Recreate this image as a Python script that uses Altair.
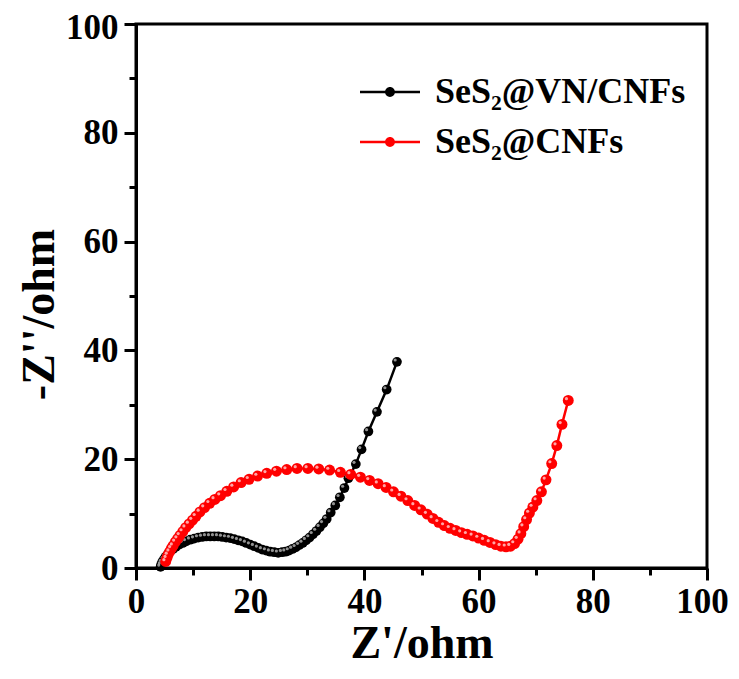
import altair as alt
import pandas as pd

# ---- data ----
series_names = ["SeS\u2082@VN/CNFs", "SeS\u2082@CNFs"]
series_colors = ["#000000", "#ff0000"]
highlight_colors = ["#b8b8b8", "#ffd0d0"]

vn_x = [4.3, 4.4, 4.6, 4.9, 5.2, 5.6, 6.0, 6.5, 7.0, 7.6, 8.2, 8.8, 9.5, 10.2, 10.9, 11.6,
        12.3, 13.0, 13.7, 14.4, 15.1, 15.8, 16.5, 17.2, 17.9, 18.6, 19.3, 20.0, 20.7, 21.4,
        22.1, 22.8, 23.5, 24.2, 24.9, 25.6, 26.2, 26.8, 27.4, 28.0, 28.6, 29.2, 29.8, 30.4,
        31.0, 31.6, 32.2, 32.8, 33.4, 34.1, 34.9, 35.7, 36.5, 37.2, 38.5, 39.5, 40.7, 42.2,
        43.9, 45.7]
vn_y = [0.2, 0.6, 1.1, 1.6, 2.1, 2.6, 3.1, 3.5, 3.9, 4.3, 4.6, 4.9, 5.2, 5.4, 5.6, 5.7,
        5.8, 5.8, 5.8, 5.8, 5.7, 5.6, 5.5, 5.3, 5.1, 4.9, 4.6, 4.3, 4.0, 3.7,
        3.4, 3.2, 3.0, 2.9, 2.8, 2.9, 3.0, 3.2, 3.5, 3.8, 4.2, 4.6, 5.1, 5.6,
        6.2, 6.8, 7.5, 8.2, 9.0, 10.2, 11.5, 13.0, 14.7, 16.5, 19.1, 21.8, 25.1, 28.7,
        32.8, 37.9]

cnf_x = [5.2, 5.4, 5.6, 5.9, 6.2, 6.5, 6.9, 7.3, 7.7, 8.2, 8.7, 9.3, 9.9, 10.5, 11.2, 12.0,
         12.9, 13.8, 14.8, 15.9, 17.1, 18.4, 19.8, 21.3, 22.9, 24.6, 26.4, 28.2, 30.1, 32.0,
         33.9, 35.8, 37.6, 39.3, 40.9, 42.4, 43.8, 45.1, 46.4, 47.6, 48.8, 49.9, 51.0, 52.0,
         53.0, 54.0, 55.0, 56.0, 57.0, 58.0, 59.0, 60.0, 61.0, 62.0, 63.0, 63.9, 64.8, 65.6,
         66.3, 66.9, 67.4, 67.9, 68.4, 68.9, 69.5, 70.2, 71.0, 71.8, 72.8, 73.7, 74.6, 75.7]
cnf_y = [1.2, 1.8, 2.4, 3.0, 3.6, 4.1, 4.8, 5.4, 6.0, 6.7, 7.4, 8.1, 8.8, 9.5, 10.3, 11.1,
         11.9, 12.6, 13.3, 14.1, 14.9, 15.7, 16.3, 16.9, 17.4, 17.8, 18.1, 18.3, 18.3, 18.2,
         18.0, 17.6, 17.2, 16.7, 16.1, 15.5, 14.8, 14.0, 13.2, 12.4, 11.5, 10.7, 9.9, 9.1,
         8.4, 7.8, 7.3, 6.9, 6.5, 6.2, 5.9, 5.5, 5.1, 4.7, 4.3, 4.0, 3.9, 4.0,
         4.5, 5.3, 6.3, 7.6, 8.9, 10.1, 11.2, 12.4, 14.0, 16.2, 19.2, 22.5, 26.4, 30.8]

x_major = [0, 20, 40, 60, 80, 100]
x_minor = [10, 30, 50, 70, 90]
y_major = [0, 20, 40, 60, 80, 100]
y_minor = [10, 30, 50, 70, 90]

rows = []
for i, (a, b) in enumerate(zip(vn_x, vn_y)):
    rows.append({"series": series_names[0], "zr": a, "zi": b, "idx": i})
for i, (a, b) in enumerate(zip(cnf_x, cnf_y)):
    rows.append({"series": series_names[1], "zr": a, "zi": b, "idx": i})
df = pd.DataFrame(rows)

FONT = "Liberation Serif"
xs = alt.Scale(domain=[0, 100], nice=False, zero=False)
ys = alt.Scale(domain=[0, 100], nice=False, zero=False)
cscale = alt.Scale(domain=series_names, range=series_colors)

base = alt.Chart(df)

major_x_axis = alt.Axis(values=x_major, title="Z'/ohm", orient="bottom", tickSize=12,
                        labelPadding=4, titlePadding=2, format="d",
                        labelOffset=alt.condition(alt.datum.value == 100, alt.value(-5), alt.value(0)),
                        labelOverlap=False, labelFlush=False)
major_y_axis = alt.Axis(values=y_major, title="-Z''/ohm", orient="left", tickSize=12,
                        labelPadding=6, titlePadding=2, format="d", titleY=290,
                        labelOffset=alt.condition(alt.datum.value == 100, alt.value(3), alt.value(0)),
                        labelOverlap=False, labelFlush=False)

legend = alt.Legend(
    title=None,
    orient="none",
    legendX=236,
    legendY=50,
    padding=0,
    symbolType="M-2,-0.08L2,-0.08L2,0.08L-2,0.08Z M0.33,0A0.33,0.33 0 1,1 -0.33,0A0.33,0.33 0 1,1 0.33,0Z",
    symbolSize=900,
    symbolStrokeWidth=0,
    labelFont=FONT,
    labelFontSize=36,
    labelFontWeight="bold",
    labelColor="black",
    labelOffset=27,
    rowPadding=14,
    labelLimit=400,
)

layers = []
first = True
for k, name in enumerate(series_names):
    ln = base.transform_filter(alt.datum.series == name).mark_line(
        strokeWidth=2.5, color=series_colors[k]
    ).encode(
        x=alt.X("zr:Q", scale=xs, axis=major_x_axis if first else None),
        y=alt.Y("zi:Q", scale=ys, axis=major_y_axis if first else None),
        order="idx:Q",
    )
    first = False
    layers.append(ln)

sizes = [95, 120]
for k, name in enumerate(series_names):
    pts = base.transform_filter(alt.datum.series == name).mark_point(
        filled=True, size=sizes[k], opacity=1
    ).encode(
        x=alt.X("zr:Q", scale=xs, axis=None),
        y=alt.Y("zi:Q", scale=ys, axis=None),
        fill=alt.Fill("series:N", scale=cscale, legend=legend),
    )
    hl = base.transform_filter(alt.datum.series == name).mark_point(
        filled=True, size=10, opacity=0.8, color=highlight_colors[k],
        xOffset=-1.8, yOffset=-1.8
    ).encode(
        x=alt.X("zr:Q", scale=xs, axis=None),
        y=alt.Y("zi:Q", scale=ys, axis=None),
    )
    layers += [pts, hl]

minor = base.mark_point(opacity=0).encode(
    x=alt.X("zr:Q", scale=xs, axis=alt.Axis(values=x_minor, orient="bottom", labels=False,
                                               title=None, tickSize=7, domain=False)),
    y=alt.Y("zi:Q", scale=ys, axis=alt.Axis(values=y_minor, orient="left", labels=False,
                                               title=None, tickSize=7, domain=False)),
)
layers.append(minor)

chart = alt.layer(*layers).resolve_axis(x="independent", y="independent").properties(
    width=571,
    height=544,
    autosize=alt.AutoSizeParams(type="none"),
    padding={"left": 128, "top": 16, "right": 23, "bottom": 98},
).configure_view(
    stroke="black", strokeWidth=3
).configure_axis(
    grid=False,
    domainColor="black",
    domainWidth=3,
    tickColor="black",
    tickWidth=3,
    labelFont=FONT,
    labelFontSize=35,
    labelFontWeight="bold",
    labelColor="black",
    titleFont=FONT,
    titleFontSize=46,
    titleFontWeight="bold",
    titleColor="black",
)

chart.save("out.html", embed_options={"renderer": "svg", "actions": False})
